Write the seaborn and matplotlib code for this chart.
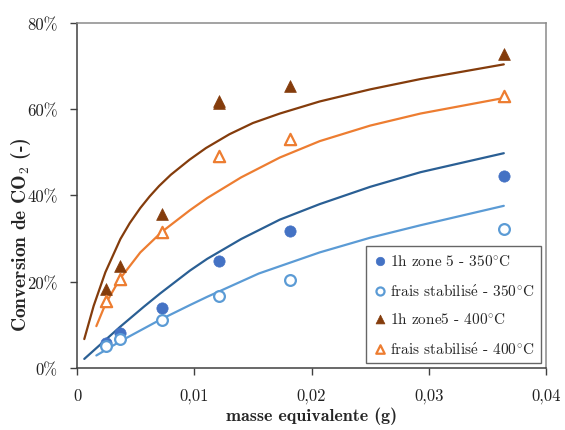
import matplotlib
matplotlib.use("Agg")
import matplotlib.pyplot as plt
import seaborn as sns

# ---- data ----
x_pts = [0.00245, 0.00367, 0.00728, 0.0121, 0.0182, 0.0364]
y_zone5_350 = [5.8, 8.1, 13.9, 24.9, 31.7, 44.6]
y_frais_350 = [5.0, 6.7, 11.1, 16.6, 20.4, 32.2]
x_pts_400 = [0.00245, 0.00367, 0.00728, 0.0121, 0.0121, 0.0182, 0.0364]
y_zone5_400 = [18.3, 23.6, 35.7, 61.4, 62.0, 65.3, 72.8]
x_frais_400 = [0.00245, 0.00367, 0.00728, 0.0121, 0.0182, 0.0364]
y_frais_400 = [15.6, 20.6, 31.5, 49.1, 53.2, 63.0]

# fitted curves
cx_zone5_400 = [0.00062, 0.00142, 0.00242, 0.0037, 0.0045, 0.0054, 0.0062, 0.0070, 0.0080,
                0.0096, 0.011, 0.013, 0.015, 0.0173, 0.0207, 0.025, 0.0293, 0.0364]
cy_zone5_400 = [6.7, 14.4, 22.2, 29.9, 33.6, 37.1, 39.8, 42.2, 44.8,
                48.3, 51.0, 54.2, 56.8, 59.0, 61.8, 64.6, 67.0, 70.4]
cx_frais_400 = [0.00165, 0.00242, 0.00364, 0.0054, 0.00725, 0.00964, 0.0111, 0.014, 0.0173,
                0.0207, 0.025, 0.0293, 0.0364]
cy_frais_400 = [9.7, 14.8, 20.6, 26.8, 31.6, 36.6, 39.4, 44.2, 48.8,
                52.6, 56.2, 59.0, 62.6]
cx_zone5_350 = [0.00062, 0.0037, 0.0057, 0.0071, 0.00964, 0.0111, 0.014, 0.0173, 0.0207,
                0.025, 0.0293, 0.0364]
cy_zone5_350 = [2.1, 9.6, 14.2, 17.3, 22.6, 25.3, 29.9, 34.4, 38.0,
                42.0, 45.4, 49.8]
cx_frais_350 = [0.00165, 0.0037, 0.0071, 0.00964, 0.0111, 0.0155, 0.0207, 0.025, 0.0293, 0.0364]
cy_frais_350 = [2.9, 6.2, 11.2, 14.6, 16.5, 21.9, 26.8, 30.2, 33.1, 37.6]

x_ticks = [0, 0.01, 0.02, 0.03, 0.04]
x_tick_labels = ["0", "0,01", "0,02", "0,03", "0,04"]
y_ticks = [0, 20, 40, 60, 80]
y_tick_labels = ["0%", "20%", "40%", "60%", "80%"]

labels = [r"1h zone 5 - 350$^{\circ}$C",
          r"frais stabilis$\acute{\mathrm{e}}$ - 350$^{\circ}$C",
          r"1h zone5 - 400$^{\circ}$C",
          r"frais stabilis$\acute{\mathrm{e}}$ - 400$^{\circ}$C"]

sns.set_theme(style="white")
plt.rcParams["font.family"] = ["cmr10", "DejaVu Serif"]
plt.rcParams["mathtext.fontset"] = "cm"
plt.rcParams["axes.unicode_minus"] = False

fig = plt.figure(figsize=(5.65, 4.31), dpi=100)
ax = fig.add_axes([0.1363, 0.1439, 0.8301, 0.8005])

c_dblue = "#2A5F94"
c_lblue = "#5B9BD5"
c_brown = "#843C0C"
c_orange = "#ED7D31"
c_fill = "#4472C4"

# curves
for cx, cy, col in [(cx_zone5_400, cy_zone5_400, c_brown),
                    (cx_frais_400, cy_frais_400, c_orange),
                    (cx_zone5_350, cy_zone5_350, c_dblue),
                    (cx_frais_350, cy_frais_350, c_lblue)]:
    sns.lineplot(x=cx, y=cy, ax=ax, color=col, lw=1.6, sort=False,
                 estimator=None, label="_nolegend_")

# points
sns.scatterplot(x=x_pts, y=y_zone5_350, ax=ax, marker="o", s=66,
                color=c_fill, edgecolor=c_fill, linewidth=0.5, label=labels[0], zorder=5)
sns.scatterplot(x=x_pts, y=y_frais_350, ax=ax, marker="o", s=60,
                facecolor="white", edgecolor=c_lblue, linewidth=1.6, label=labels[1], zorder=5)
sns.scatterplot(x=x_pts_400, y=y_zone5_400, ax=ax, marker="^", s=72,
                color=c_brown, edgecolor=c_brown, linewidth=0.5, label=labels[2], zorder=5)
sns.scatterplot(x=x_frais_400, y=y_frais_400, ax=ax, marker="^", s=66,
                facecolor="white", edgecolor=c_orange, linewidth=1.6, label=labels[3], zorder=5)

ax.set_xlim(0, 0.04)
ax.set_ylim(0, 80)
ax.set_xticks(x_ticks)
ax.set_xticklabels(x_tick_labels)
ax.set_yticks(y_ticks)
ax.set_yticklabels(y_tick_labels)
ax.tick_params(axis="both", direction="out", length=5, width=1, color="#404040",
               labelsize=12, pad=9, left=True, bottom=True, labelcolor="#222222")

for side in ["left", "bottom"]:
    ax.spines[side].set_color("#404040")
    ax.spines[side].set_linewidth(1.1)
for side in ["top", "right"]:
    ax.spines[side].set_color("#8a8a8a")
    ax.spines[side].set_linewidth(1.1)

ax.set_xlabel("masse equivalente (g)", fontsize=13, family=["cmb10", "DejaVu Serif"],
              fontweight="bold")
ax.set_ylabel(r"Conversion de CO$_\mathbf{2}$ (-)", fontsize=14,
              family=["cmb10", "DejaVu Serif"], fontweight="bold")
ax.xaxis.set_label_coords(0.5, -0.112)
ax.yaxis.set_label_coords(-0.094, 0.39)

leg = ax.legend(loc="lower right", bbox_to_anchor=(0.989, 0.0145), borderaxespad=0,
                fontsize=11, frameon=True, fancybox=False, handletextpad=0.1,
                handlelength=1.0, labelspacing=0.9, borderpad=0.45, markerscale=0.75)
leg.get_frame().set_edgecolor("#404040")
leg.get_frame().set_linewidth(1.0)

fig.savefig("out.png", dpi=100)
